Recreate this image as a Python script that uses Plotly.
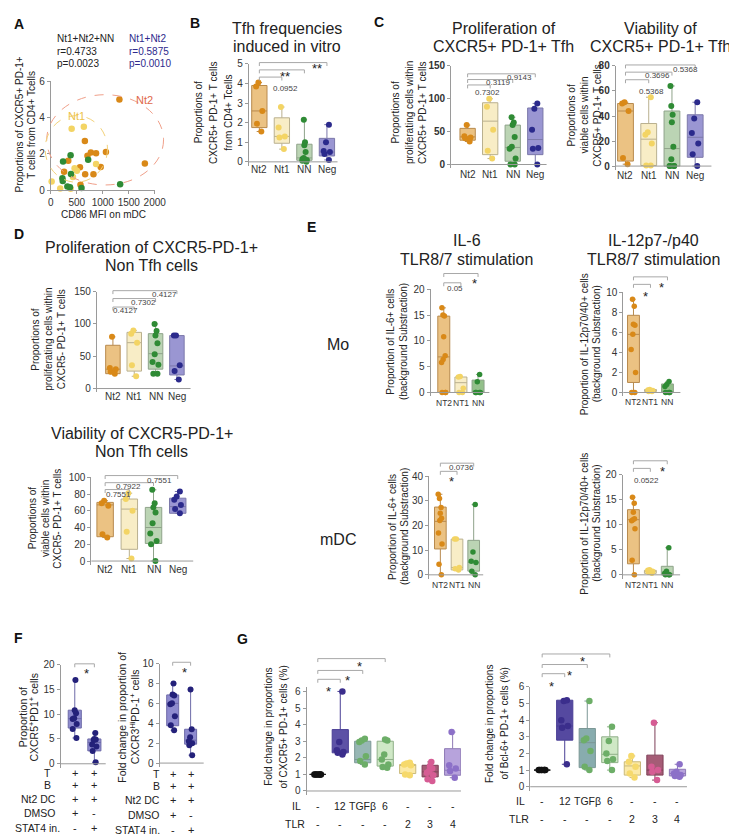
import plotly.graph_objects as go

FONT = "Arial, Liberation Sans, sans-serif"
W, H = 737, 836
AXC = "#9a9a9a"
TXT = "#222222"

# ===================== DATA =====================
# Panel A (scatter: CD86 MFI on mDC vs proportion of CXCR5+PD-1+ T cells)
A_nt2_x = [1320, 655, 705, 770, 870, 1060, 335, 255, 560, 660, 820, 960, 1810, 570]
A_nt2_y = [4.99, 2.71, 1.90, 2.08, 2.04, 2.11, 1.63, 1.03, 1.27, 0.89, 0.89, 1.28, 1.48, 0.31]
A_nt1_x = [400, 635, 870, 457, 500, 425, 15, 180, 380]
A_nt1_y = [3.38, 3.49, 1.45, 1.21, 1.08, 0.74, 0.49, 0.11, 0.09]
A_nn_x = [380, 718, 235, 387, 222, 229, 318, 368, 590, 1334]
A_nn_y = [1.93, 1.68, 1.59, 0.90, 0.67, 0.52, 0.22, 0.18, 0.13, 0.34]
A_stats_all = ["Nt1+Nt2+NN", "r=0.4733", "p=0.0023"]
A_stats_nt = ["Nt1+Nt2", "r=0.5875", "p=0.0010"]

GROUPS4 = ["Nt2", "Nt1", "NN", "Neg"]
GROUPS_E = ["NT2", "NT1", "NN"]

# Panel B: Tfh frequencies induced in vitro
B_pts = [[4.05, 3.85, 2.6, 1.95, 1.55],
         [2.8, 1.75, 1.3, 1.25, 0.65],
         [2.15, 1.0, 0.85, 0.5, 0.2, 0.15, 0.1, 0.05, 0.0],
         [1.9, 1.0, 0.55, 0.5, 0.4, 0.1]]
B_q1 = [1.75, 0.95, 0.08, 0.3]
B_med = [2.6, 1.3, 0.2, 0.5]
B_q3 = [3.9, 2.25, 0.9, 1.2]

# Panel C: proliferation of CXCR5+PD-1+ Tfh
Cp_pts = [[60, 43, 41, 40, 35],
          [100, 88, 53, 21, 9],
          [72, 64, 60, 42, 27, 24, 9, 0, 0],
          [93, 85, 53, 25, 24, 0]]
Cp_q1 = [37, 15, 5, 15]
Cp_med = [42, 66, 26, 38]
Cp_q3 = [55, 94, 60, 86]

# Panel C: viability of CXCR5+PD-1+ Tfh
Cv_pts = [[51, 50, 44, 6.5, 1.5],
          [55, 27, 25, 18, 0.5, 0.5],
          [64, 48, 41, 35, 15.5, 5.5, 0, 0, 0, 0],
          [51, 38, 26.5, 18, 9.5, 0]]
Cv_q1 = [4, 0.5, 0, 7]
Cv_med = [44, 21.5, 14, 23]
Cv_q3 = [50, 34, 44, 41]

# Panel D: proliferation of CXCR5-PD-1+ non Tfh
Dp_pts = [[80, 32, 30, 26, 23],
          [90, 85, 71, 36, 19],
          [100, 89, 82, 70, 53, 41, 37, 23, 23],
          [82, 82, 36, 27, 14]]
Dp_q1 = [23, 27, 30, 21]
Dp_med = [30, 71, 54, 35]
Dp_q3 = [67, 87, 85, 82]

# Panel D: viability of CXCR5-PD-1+ non Tfh
Dv_pts = [[72, 69, 66, 32, 28],
          [81, 74, 60, 35, 3],
          [85, 69, 64, 58, 45, 33, 24, 20, 0],
          [83, 77, 73, 67, 62, 57]]
Dv_q1 = [29, 14, 21, 57]
Dv_med = [67, 62, 40, 65]
Dv_q3 = [70, 74, 64, 75]

# Panel E: Mo IL-6, Mo IL-12, mDC IL-6, mDC IL-12
E1_pts = [[16.4, 15.0, 14.8, 10.8, 7.1, 6.4, 5.8, 0, 0, 0],
          [3.1, 3.0, 0.8, 0, 0],
          [3.5, 2.1, 0, 0, 0, 0]]
E1_q1 = [0, 0, 0]
E1_med = [6.9, 1.9, 0]
E1_q3 = [14.8, 3.0, 2.4]

E2_pts = [[9.3, 8.6, 6.8, 6.7, 5.8, 4.3, 2.0, 0, 0],
          [0.3, 0.25, 0.2, 0.1, 0.1],
          [1.1, 0.8, 0.6, 0, 0, 0]]
E2_q1 = [1.0, 0.1, 0]
E2_med = [5.8, 0.2, 0.05]
E2_q3 = [7.7, 0.3, 0.85]

E3_pts = [[32.7, 31, 27.3, 25, 23, 22, 17, 12.5, 4.3, 0],
          [14.5, 14.5, 3, 2.5, 2],
          [28.5, 9.3, 5.5, 5, 1.5, 0]]
E3_q1 = [10.5, 2, 1.5]
E3_med = [21.7, 3, 5]
E3_q3 = [27.5, 14.5, 14]

E4_pts = [[15.5, 14.3, 12.5, 11.2, 11, 10.8, 9.2, 2.9, 0],
          [1.0, 0.9, 0.7, 0.5, 0.3],
          [5.4, 0.7, 0.3, 0, 0, 0]]
E4_q1 = [2.2, 0.3, 0]
E4_med = [11, 0.7, 0]
E4_q3 = [13, 0.9, 1.7]

# Panel F
F_groups = ["DMSO", "STAT4"]
F1_pts = [[16.9, 10.8, 10.2, 9.2, 9.0, 8.0, 7.0, 5.2],
          [6.2, 5.0, 4.9, 4.8, 3.9, 3.5, 2.6, 0.3]]
F1_q1 = [7.2, 2.6]
F1_med = [9.1, 4.3]
F1_q3 = [10.8, 5.0]
F2_pts = [[8.0, 6.9, 6.8, 6.0, 5.9, 4.7, 3.8, 3.3],
          [7.4, 3.4, 2.6, 2.2, 2.0, 1.8, 0.8]]
F2_q1 = [3.75, 1.9]
F2_med = [6.0, 2.3]
F2_q3 = [6.85, 3.4]
F_row_labels = ["T", "B", "Nt2 DC", "DMSO", "STAT4 in."]
F_col1 = ["+", "+", "+", "+", "-"]
F_col2 = ["+", "+", "+", "-", "+"]

# Panel G
G_groups = ["ctrl", "IL12", "TGFb", "IL6", "TLR2", "TLR3", "TLR4"]
G_IL = ["-", "12", "TGFβ", "6", "-", "-", "-"]
G_TLR = ["-", "-", "-", "-", "2", "3", "4"]
G1_pts = [[1, 1, 1, 1, 1, 1, 1],
          [6.0, 2.95, 2.45, 2.35, 2.3, 2.2],
          [3.15, 3.05, 2.95, 2.1, 1.8, 1.6],
          [3.1, 3.05, 2.2, 1.9, 1.6, 1.45, 1.4],
          [1.7, 1.65, 1.6, 1.55, 1.0, 0.95],
          [1.75, 1.5, 1.35, 1.2, 1.1, 0.95, 0.7, 0.6],
          [3.55, 1.55, 1.35, 1.2, 0.8]]
G1_q1 = [1, 2.3, 1.7, 1.5, 1.05, 0.85, 0.95]
G1_med = [1, 2.4, 1.9, 1.9, 1.55, 1.15, 1.25]
G1_q3 = [1, 3.7, 3.0, 3.0, 1.6, 1.55, 2.55]
G2_pts = [[1, 1, 1, 1, 1, 1, 1],
          [5.2, 5.15, 4.0, 3.65, 3.55, 1.35],
          [5.15, 2.9, 2.8, 2.15, 1.2, 1.0],
          [3.6, 2.75, 2.0, 1.65, 1.55, 1.0],
          [1.85, 1.5, 1.2, 0.8, 0.55],
          [3.85, 1.2, 1.0, 0.9, 0.4],
          [1.35, 0.9, 0.8, 0.7, 0.65, 0.6]]
G2_q1 = [1, 2.8, 1.15, 1.45, 0.7, 0.7, 0.65]
G2_med = [1, 3.65, 2.65, 1.95, 1.25, 1.0, 0.8]
G2_q3 = [1, 5.2, 3.5, 3.0, 1.5, 1.9, 1.05]

# ===================== STYLES =====================
OR_PT, OR_FILL, OR_LN = "#D98918", "#EBC283", "#B88A4E"
YE_PT, YE_FILL, YE_LN = "#F3D464", "#F8EDC6", "#B9B08F"
GR_PT, GR_FILL, GR_LN = "#2F8B35", "#BBD4B4", "#8FA38A"
BL_PT, BL_FILL, BL_LN = "#2B2A8C", "#9A96D2", "#7C79AA"

FILL4 = [OR_FILL, YE_FILL, GR_FILL, BL_FILL]
PT4 = [OR_PT, YE_PT, GR_PT, BL_PT]
LN4 = [OR_LN, YE_LN, GR_LN, BL_LN]
FILL_E_MO = [OR_FILL, YE_FILL, "#93C08A"]
FILL_E_DC = [OR_FILL, YE_FILL, GR_FILL]
PT3 = [OR_PT, YE_PT, GR_PT]
LN3 = [OR_LN, YE_LN, GR_LN]
F_FILL = ["#8E8BCF", "#8E8BCF"]
F_PT = ["#24217A", "#24217A"]
F_LN = ["#6E6BA8", "#6E6BA8"]
G1_FILL = ["#333333", "#5D52A6", "#97B7B4", "#CFE8C6", "#FBE9A6", "#A55C76", "#B7A3DC"]
G2_FILL = ["#333333", "#5549A0", "#88ACAE", "#CFE8C6", "#FBE9A6", "#A55C76", "#B7A3DC"]
G_PT = ["#111111", "#3B2E8C", "#6DAE68", "#6DAE68", "#F6D96C", "#D65C94", "#8C70C8"]
G_LN = ["#222222", "#4A3F95", "#7C9896", "#8FAF88", "#C9B97A", "#7E3F57", "#8E7AB5"]

fig = go.Figure()
layout = {}
shapes = []
annots = []
AX = {}


def fx(px):
    return px / W


def fy(py):
    return 1 - py / H


def names(n):
    s = "" if n == 1 else str(n)
    return "x" + s, "y" + s, "xaxis" + s, "yaxis" + s


def text(x_px, y_px, s, size=10, color=TXT, anchor="center", angle=0, bold=False):
    annots.append(dict(x=fx(x_px), y=fy(y_px), xref="paper", yref="paper", text=s,
                       showarrow=False, xanchor=anchor, yanchor="middle", textangle=angle,
                       borderpad=0,
                       font=dict(size=size, color=color, family=FONT,
                                 weight="bold" if bold else "normal")))


def cat_px(n, idx):
    x0, x1, (r0, r1) = AX[n]
    return x0 + (idx - r0) / (r1 - r0) * (x1 - x0)


def make_axes(n, x0, x1, xr, ytop, yzero, ymax, dtick, cats, bold=False, toppad=0.0):
    xn, yn, xk, yk = names(n)
    ppu = (yzero - ytop) / ymax
    pad = 4.0
    layout[xk] = dict(domain=[fx(x0), fx(x1)], range=xr, anchor=yn, type="category",
                      categoryorder="array", categoryarray=cats, showgrid=False,
                      zeroline=False, showline=False, ticks="", showticklabels=False,
                      fixedrange=True)
    layout[yk] = dict(domain=[fy(yzero + pad), fy(ytop - toppad)],
                      range=[-pad / ppu, ymax + toppad / ppu], anchor=xn, showgrid=False,
                      zeroline=False, showline=True, linecolor=AXC, linewidth=1,
                      ticks="outside", ticklen=3, tickcolor=AXC, tickmode="linear",
                      tick0=0, dtick=dtick, fixedrange=True,
                      tickfont=dict(size=10, color="#333", family=FONT,
                                    weight="bold" if bold else "normal"))
    shapes.append(dict(type="line", xref="paper", yref="paper", x0=fx(x0), x1=fx(x1),
                       y0=fy(yzero), y1=fy(yzero), line=dict(color=AXC, width=1)))
    AX[n] = (x0, x1, xr)


def cat_labels(n, labels, y_px, size=10):
    for i, s in enumerate(labels):
        text(cat_px(n, i), y_px, s, size=size, color="#333")


def boxes(n, cats, pts, q1, med, q3, fills, marks, lines, width=0.68, msize=6, jitter=0.5):
    xn, yn, _, _ = names(n)
    for i, c in enumerate(cats):
        fig.add_trace(go.Box(
            x=[c], y=[pts[i]], q1=[q1[i]], median=[med[i]], q3=[q3[i]],
            lowerfence=[min(min(pts[i]), q1[i])], upperfence=[max(max(pts[i]), q3[i])],
            orientation="v", boxpoints="all", jitter=jitter, pointpos=0,
            width=width, whiskerwidth=0.35, fillcolor=fills[i],
            line=dict(color=lines[i], width=1),
            marker=dict(color=marks[i], size=msize, line=dict(width=0), opacity=1),
            xaxis=xn, yaxis=yn, showlegend=False, hoverinfo="skip"))


def bracket(n, i0, i1, y_px, label, lab_idx, lab_y, star=False, drop=3.5):
    xa = fx(cat_px(n, i0))
    xb = fx(cat_px(n, i1))
    path = "M{},{} L{},{} L{},{} L{},{}".format(xa, fy(y_px + drop), xa, fy(y_px),
                                                 xb, fy(y_px), xb, fy(y_px + drop))
    shapes.append(dict(type="path", xref="paper", yref="paper", path=path,
                       line=dict(color="#a8a8a8", width=1)))
    if star:
        text(cat_px(n, lab_idx), lab_y + 2.5, label, size=13)
    else:
        text(cat_px(n, lab_idx), lab_y, label, size=8, color="#444")


def hlines(cx, ys, lines, size=16):
    for y, s in zip(ys, lines):
        text(cx, y, s, size=size)


def vlines(xs, cy, lines, size=10):
    for x, s in zip(xs, lines):
        text(x, cy, s, size=size, angle=-90)


# ===================== PANEL A =====================
A_X0, A_X1, A_Y0, A_Y1 = 40.7, 146.7, 179.0, 68.0
A_XR, A_YR = [0, 2000], [0, 6]


def a_px(xv, yv):
    return (A_X0 + (xv - A_XR[0]) / (A_XR[1] - A_XR[0]) * (A_X1 - A_X0),
            A_Y0 - (yv - A_YR[0]) / (A_YR[1] - A_YR[0]) * (A_Y0 - A_Y1))


TF = dict(size=10, color="#333", family=FONT)
layout["xaxis"] = dict(domain=[fx(A_X0), fx(A_X1)], range=A_XR, anchor="y",
                       showline=True, linecolor=AXC, ticks="outside", ticklen=3,
                       tickcolor=AXC, tickvals=[0, 500, 1000, 1500, 2000],
                       showgrid=False, zeroline=False, tickfont=TF, fixedrange=True)
layout["yaxis"] = dict(domain=[fy(A_Y0), fy(A_Y1)], range=A_YR, anchor="x",
                       showline=True, linecolor=AXC, ticks="outside", ticklen=3,
                       tickcolor=AXC, tickvals=[0, 2, 4, 6], showgrid=False,
                       zeroline=False, tickfont=TF, fixedrange=True)
for (ex0, ey0, ex1, ey1, col) in [(-80, 0.3, 2170, 5.25, "#F0A08A"),
                                  (-110, 0.45, 1090, 4.1, "#F3D27A")]:
    p0 = a_px(ex0, ey0)
    p1 = a_px(ex1, ey1)
    shapes.append(dict(type="circle", xref="paper", yref="paper",
                       x0=fx(p0[0]), x1=fx(p1[0]), y0=fy(p0[1]), y1=fy(p1[1]),
                       line=dict(color=col, width=1, dash="dash")))
for xs, ys, col in [(A_nt2_x, A_nt2_y, OR_PT), (A_nt1_x, A_nt1_y, YE_PT),
                    (A_nn_x, A_nn_y, GR_PT)]:
    fig.add_trace(go.Scatter(x=xs, y=ys, mode="markers", cliponaxis=False,
                             marker=dict(color=col, size=6.5), xaxis="x", yaxis="y",
                             showlegend=False, hoverinfo="skip"))
for y, s in zip([25, 38.3, 50.7], A_stats_all):
    text(46, y, s, size=10, anchor="left")
for y, s in zip([25, 38.3, 50.7], A_stats_nt):
    text(119, y, s, size=10, anchor="left", color="#2E2A8C")
text(136.7, 87.3, "Nt2", size=11, color="#E0694A")
text(66.7, 103.3, "Nt1", size=11, color="#EDC24A")
vlines([8.3, 20.7], 112, ["Proportions of CXCR5+ PD-1+", "T cells from CD4+ Tcells"])
text(94, 203, "CD86 MFI on mDC", size=10)

# ===================== PANEL B =====================
make_axes(2, 242.7, 333.3, [-0.47, 3.47], 50.7, 150, 5, 1, GROUPS4)
boxes(2, GROUPS4, B_pts, B_q1, B_med, B_q3, FILL4, PT4, LN4)
cat_labels(2, GROUPS4, 157.5)
hlines(282, [15, 33.3], ["Tfh frequencies", "induced in vitro"])
vlines([191.7, 206.7, 221.7], 100, ["Proportions of", "CXCR5+ PD-1+ T cells", "from CD4+ Tcells"])
bracket(2, 0, 3, 49.3, "**", 2.54, 53, star=True)
bracket(2, 0, 2, 56.7, "**", 1.16, 61.2, star=True)
bracket(2, 0, 1, 64, "0.0952", 1.16, 76)

# ===================== PANEL C =====================
make_axes(3, 449.3, 546.7, [-0.73, 3.5], 52.7, 152.7, 150, 50, GROUPS4, bold=True)
boxes(3, GROUPS4, Cp_pts, Cp_q1, Cp_med, Cp_q3, FILL4, PT4, LN4)
cat_labels(3, GROUPS4, 163.3)
hlines(503, [15, 33.3], ["Proliferation of", "CXCR5+ PD-1+ Tfh"])
vlines([393, 406.7, 420], 100, ["Proportions of", "proliferating cells within", "CXCR5+ PD-1+ T cells"])
bracket(3, 0, 3, 60.7, "0.9143", 2.3, 64.5)
bracket(3, 0, 2, 66.5, "0.3119", 1.35, 70)
bracket(3, 0, 1, 72.0, "0.7302", 0.9, 80)

make_axes(4, 617.3, 715, [-0.42, 3.7], 52.7, 154.3, 80, 20, GROUPS4, bold=True)
boxes(4, GROUPS4, Cv_pts, Cv_q1, Cv_med, Cv_q3, FILL4, PT4, LN4)
cat_labels(4, GROUPS4, 164.3)
hlines(663, [15, 33.3], ["Viability of", "CXCR5+ PD-1+ Tfh"])
vlines([571.7, 585, 598.3], 103, ["Proportions of", "viable cells within", "CXCR5+ PD-1+ T cells"])
bracket(4, 0, 3, 51.7, "0.5368", 2.57, 56)
bracket(4, 0, 2, 59, "0.3696", 1.38, 62.5)
bracket(4, 0, 1, 66.7, "0.5368", 1.1, 78.3)

# ===================== PANEL D =====================
make_axes(5, 87.7, 183.3, [-0.75, 3.64], 281.7, 380, 150, 50, GROUPS4)
boxes(5, GROUPS4, Dp_pts, Dp_q1, Dp_med, Dp_q3, FILL4, PT4, LN4)
cat_labels(5, GROUPS4, 388.3)
hlines(143.3, [236.7, 255], ["Proliferation of CXCR5-PD-1+", "Non Tfh cells"])
vlines([25, 38.3, 51], 330, ["Proportions of", "proliferating cells within", "CXCR5- PD-1+ T cells"])
bracket(5, 0, 3, 280.7, "0.4127", 2.41, 284.7)
bracket(5, 0, 2, 288.7, "0.7302", 1.42, 292.3)
bracket(5, 0, 1, 297.3, "0.4127", 0.58, 301)

make_axes(6, 82, 186, [-0.57, 3.64], 470, 555, 100, 20, GROUPS4)
boxes(6, GROUPS4, Dv_pts, Dv_q1, Dv_med, Dv_q3, FILL4, PT4, LN4)
cat_labels(6, GROUPS4, 564)
hlines(133.3, [426, 444.3], ["Viability of CXCR5-PD-1+", "Non Tfh cells"])
vlines([22, 35, 48], 512, ["Proportions of", "viable cells within", "CXCR5- PD-1+ T cells"])
bracket(6, 0, 3, 468.3, "0.7551", 2.25, 473.3)
bracket(6, 0, 2, 475.5, "0.7922", 0.95, 479.5)
bracket(6, 0, 1, 482.5, "0.7551", 0.57, 488)

# ===================== PANEL E =====================
make_axes(7, 428.3, 488.3, [-0.77, 2.66], 279.3, 384, 20, 5, GROUPS_E)
boxes(7, GROUPS_E, E1_pts, E1_q1, E1_med, E1_q3, FILL_E_MO, PT3, LN3, width=0.7, msize=5.5)
cat_labels(7, GROUPS_E, 395, size=8.5)
vlines([387.3, 400], 332, ["Proportion of IL-6+ cells", "(background Substraction)"])
bracket(7, 0, 2, 263.3, "*", 1.77, 271, star=True)
bracket(7, 0, 1, 272.7, "0.05", 0.66, 278.3)

make_axes(8, 625, 683.3, [-0.6, 2.76], 282.3, 384, 10, 2, GROUPS_E)
boxes(8, GROUPS_E, E2_pts, E2_q1, E2_med, E2_q3, FILL_E_MO, PT3, LN3, width=0.7, msize=5.5)
cat_labels(8, GROUPS_E, 394, size=8.5)
vlines([585, 597.3], 335, ["Proportion of IL-12p70/40+ cells", "(background Substraction)"])
bracket(8, 0, 2, 266.7, "*", 1.65, 275, star=True)
bracket(8, 0, 1, 274.3, "*", 0.7, 284, star=True)

make_axes(9, 426.7, 482, [-0.68, 2.57], 469, 569, 40, 10, GROUPS_E)
boxes(9, GROUPS_E, E3_pts, E3_q1, E3_med, E3_q3, FILL_E_DC, PT3, LN3, width=0.7, msize=5.5)
cat_labels(9, GROUPS_E, 579, size=8.5)
vlines([389.3, 401.7], 520, ["Proportion of IL-6+ cells", "(background Substraction)"])
bracket(9, 0, 2, 455.7, "0.0736", 1.27, 460)
bracket(9, 0, 1, 464, "*", 0.65, 471.7, star=True)

make_axes(10, 624.3, 683, [-0.64, 2.76], 467.3, 569, 20, 5, GROUPS_E)
boxes(10, GROUPS_E, E4_pts, E4_q1, E4_med, E4_q3, FILL_E_DC, PT3, LN3, width=0.7, msize=5.5)
cat_labels(10, GROUPS_E, 579, size=8.5)
vlines([585, 597.3], 517, ["Proportion of IL-12p70/40+ cells", "(background Substraction)"])
bracket(10, 0, 2, 453.3, "*", 1.72, 461.7, star=True)
bracket(10, 0, 1, 461, "0.0522", 0.75, 473.3)

hlines(465, [230, 249.3], ["IL-6", "TLR8/7 stimulation"])
hlines(656, [230, 249.3], ["IL-12p7-/p40", "TLR8/7 stimulation"])
text(333.3, 335, "Mo", size=16)
text(333.3, 533.3, "mDC", size=16)

# ===================== PANEL F =====================
make_axes(11, 50.7, 96.7, [-0.72, 1.58], 660, 760.7, 20, 5, F_groups)
boxes(11, F_groups, F1_pts, F1_q1, F1_med, F1_q3, F_FILL, F_PT, F_LN, width=0.67)
vlines([11.7, 23.3], 713, ["Proportion of", "CXCR5<sup>+</sup>PD1<sup>+</sup> cells"], size=10.5)
bracket(11, 0, 1, 659.3, "*", 0.6, 666.7, star=True)
for y, rx, lab, a, b in zip([770.5, 782, 796.5, 811, 826], [42, 42, 47, 47, 51],
                            F_row_labels, F_col1, F_col2):
    text(rx, y, lab, size=10.5, anchor="right")
    text(cat_px(11, 0), y, a, size=11)
    text(cat_px(11, 1), y, b, size=11)

make_axes(12, 151.7, 196.7, [-0.73, 1.73], 659, 760, 10, 2, F_groups)
boxes(12, F_groups, F2_pts, F2_q1, F2_med, F2_q3, F_FILL, F_PT, F_LN, width=0.67)
vlines([113.3, 126], 713, ["Fold change in proportion of", "CXCR3<sup>Hi</sup>PD-1<sup>+</sup> cells"], size=10.5)
bracket(12, 0, 1, 657.7, "*", 0.64, 666, star=True)
for y, lab, a, b in zip([771.5, 783, 797.5, 812.5, 827.5], F_row_labels, F_col1, F_col2):
    text(153, y, lab, size=10.5, anchor="right")
    text(cat_px(12, 0), y, a, size=11)
    text(cat_px(12, 1), y, b, size=11)

# ===================== PANEL G =====================
make_axes(13, 301.7, 459.3, [-0.5, 6.37], 687.3, 788.3, 6, 1, G_groups, toppad=4.0)
boxes(13, G_groups, G1_pts, G1_q1, G1_med, G1_q3, G1_FILL, G_PT, G_LN, width=0.72, msize=6.5)
vlines([263.3, 278.3], 723.3, ["Fold change in proportions", "of CXCR5+ PD-1+ cells (%)"])
bracket(13, 0, 3, 654, "*", 1.86, 659.3, star=True)
bracket(13, 0, 2, 666, "*", 1.31, 674, star=True)
bracket(13, 0, 1, 675, "*", 0.48, 685.3, star=True)
text(297, 804, "IL", size=10.5, anchor="right")
text(301, 821.7, "TLR", size=10.5, anchor="right")
for i, (a, b) in enumerate(zip(G_IL, G_TLR)):
    text(cat_px(13, i), 804, a, size=10.5)
    text(cat_px(13, i), 821.7, b, size=10.5)

make_axes(14, 530, 690, [-0.53, 6.42], 682.7, 784, 6, 1, G_groups)
boxes(14, G_groups, G2_pts, G2_q1, G2_med, G2_q3, G2_FILL, G_PT, G_LN, width=0.72, msize=6.5)
vlines([488.3, 504], 720, ["Fold change in proportions", "of Bcl-6+ PD-1+ cells (%)"])
bracket(14, 0, 3, 649.3, "*", 1.78, 654, star=True)
bracket(14, 0, 2, 660, "*", 1.23, 668.3, star=True)
bracket(14, 0, 1, 669.3, "*", 0.41, 680, star=True)
text(526, 798.3, "IL", size=10.5, anchor="right")
text(530, 816.7, "TLR", size=10.5, anchor="right")
for i, (a, b) in enumerate(zip(G_IL, G_TLR)):
    text(cat_px(14, i), 798.3, a, size=10.5)
    text(cat_px(14, i), 816.7, b, size=10.5)

# ===================== PANEL LETTERS =====================
for s, x, y in [("A", 2, 10), ("B", 182, 9), ("C", 370, 8), ("D", 2, 223),
                ("E", 301, 216), ("F", 2, 633), ("G", 230, 634)]:
    text(x, y, s, size=14, anchor="left", bold=True, color="#111")

layout.update(dict(width=W, height=H, autosize=False, margin=dict(l=0, r=0, t=0, b=0),
                   paper_bgcolor="white", plot_bgcolor="white", showlegend=False,
                   boxmode="overlay", font=dict(family=FONT, color=TXT),
                   shapes=shapes, annotations=annots))
fig.update_layout(**layout)
fig.write_html("out.html")
